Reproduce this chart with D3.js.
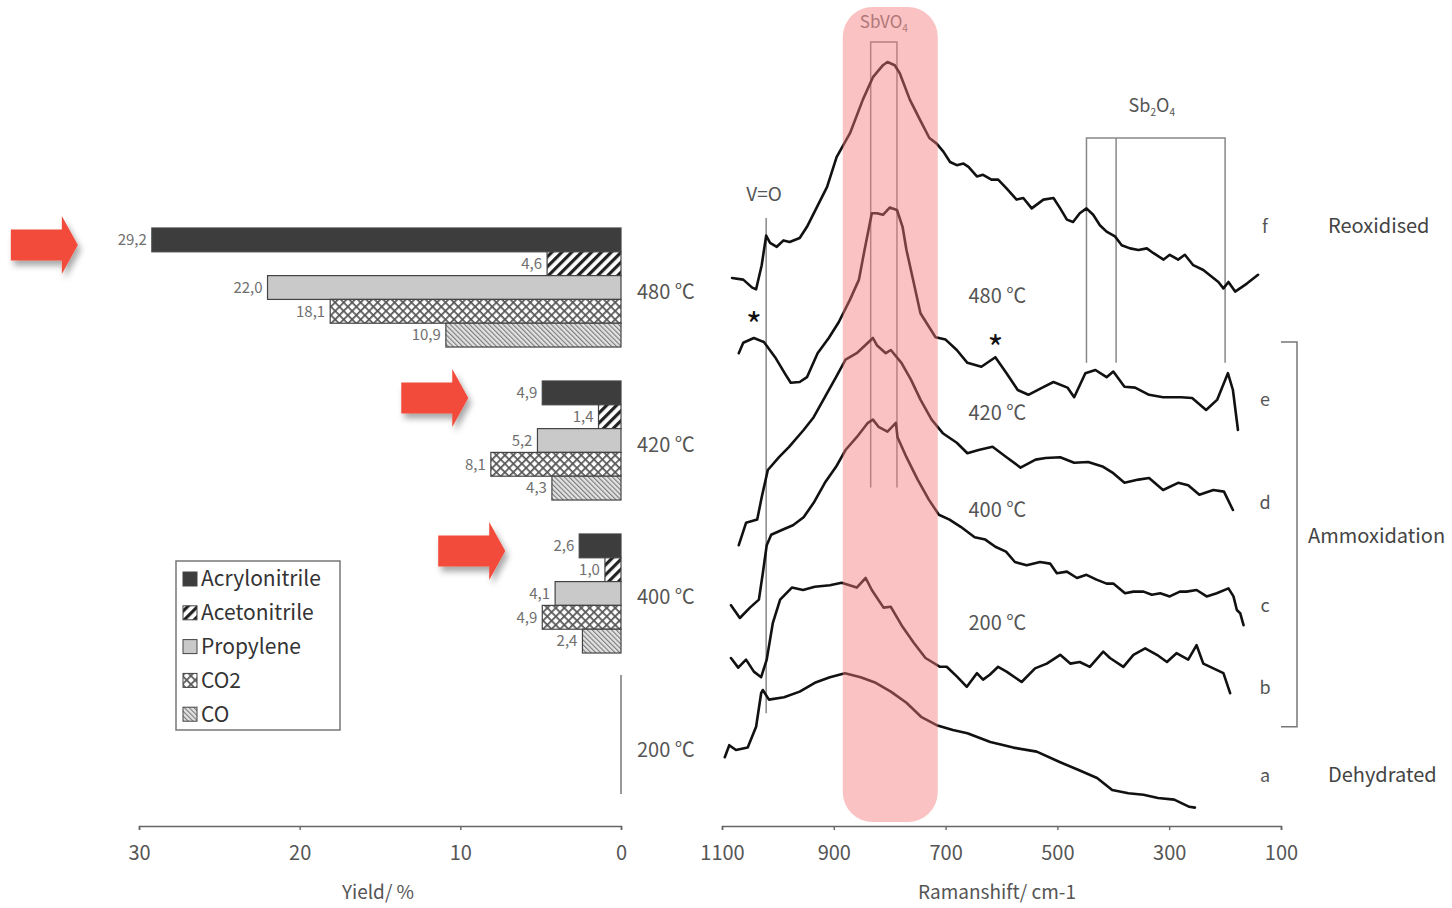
<!DOCTYPE html>
<html><head><meta charset="utf-8">
<script src="https://cdn.jsdelivr.net/npm/d3@7"></script>
<style>
html,body{margin:0;padding:0;background:#fff;}
svg text{font-family:"Noto Sans CJK JP","Open Sans",sans-serif;}
</style></head><body>
<svg id="chart" width="1452" height="908"></svg>
<script>
// ---------- data ----------
const groups = ["480 ℃", "420 ℃", "400 ℃", "200 ℃"];
const products = ["Acrylonitrile", "Acetonitrile", "Propylene", "CO2", "CO"];
const yield480 = [29.2, 4.6, 22.0, 18.1, 10.9];
const yield420 = [4.9, 1.4, 5.2, 8.1, 4.3];
const yield400 = [2.6, 1.0, 4.1, 4.9, 2.4];
const yield200 = [];
const highlighted = ["480 ℃", "420 ℃", "400 ℃"];
const yieldTicks = [30, 20, 10, 0];
const shiftTicks = [1100, 900, 700, 500, 300, 100];

// Raman spectra: [shift cm-1, intensity a.u.]
const specF = [[1082,68.5],[1062,68.3],[1046,67.3],[1039,67.1],[1029,70.1],[1021,73.8],[1014,72.9],[1002,72.4],[990,73.2],[979,73.0],[961,73.5],[948,74.9],[930,77.4],[912,79.9],[895,83.6],[871,86.6],[848,90.8],[830,93.6],[812,95.1],[804,95.5],[791,95.1],[782,94.1],[764,90.8],[746,88.3],[729,86.0],[716,85.3],[704,84.3],[692,83.0],[680,82.6],[668,82.8],[659,82.4],[644,81.2],[633,81.4],[618,80.8],[606,80.8],[591,79.7],[573,78.3],[561,78.5],[546,77.2],[525,78.3],[507,78.5],[495,77.2],[483,75.8],[472,75.5],[460,76.6],[448,77.2],[436,76.4],[424,75.1],[412,74.3],[397,73.7],[385,72.6],[370,72.2],[355,72.0],[340,72.2],[328,71.6],[310,70.8],[299,71.4],[284,70.8],[272,71.4],[257,70.1],[239,69.5],[221,68.5],[212,68.0],[203,67.2],[194,68.0],[182,66.8],[161,67.8],[141,68.9]];
const specE = [[1070,59.1],[1062,60.4],[1043,61.0],[1025,60.5],[1005,58.6],[986,56.4],[977,55.4],[961,55.5],[948,56.1],[929,59.1],[909,61.0],[891,63.0],[871,65.8],[855,68.3],[845,72.0],[832,76.6],[823,76.6],[812,76.4],[800,77.3],[787,77.0],[777,74.9],[770,72.0],[757,67.9],[745,64.1],[718,61.1],[700,60.8],[680,59.5],[661,57.9],[636,57.4],[611,58.6],[591,56.6],[571,54.5],[552,53.9],[527,54.8],[507,55.5],[482,54.8],[470,53.6],[450,56.6],[432,57.0],[412,56.1],[400,56.8],[380,54.9],[361,54.8],[336,53.9],[311,53.6],[279,53.6],[259,53.5],[234,52.0],[214,53.3],[195,56.6],[186,54.5],[177,49.5]];
const specD = [[1070,35.1],[1057,37.9],[1037,38.3],[1029,41.1],[1018,44.5],[998,46.1],[980,47.4],[954,49.5],[936,51.1],[916,53.6],[896,56.1],[879,58.3],[859,59.1],[839,60.4],[830,61.0],[823,60.1],[807,59.1],[798,59.5],[779,57.9],[762,55.8],[745,53.3],[725,50.8],[705,49.1],[680,47.9],[661,46.6],[641,47.0],[616,47.4],[591,46.1],[566,44.8],[539,45.8],[521,46.0],[495,46.1],[470,45.4],[445,45.5],[418,44.9],[400,44.1],[380,42.9],[355,43.3],[336,43.5],[311,42.0],[284,42.9],[266,42.6],[246,41.4],[221,42.0],[202,41.8],[186,39.5]];
const specC = [[1084,27.6],[1068,26.0],[1050,27.3],[1034,28.3],[1027,31.6],[1020,35.1],[1012,36.4],[993,37.0],[973,37.6],[954,38.6],[936,40.4],[916,42.9],[896,44.9],[879,47.0],[859,48.6],[839,50.4],[830,50.8],[820,49.9],[804,49.3],[789,50.4],[786,48.6],[770,46.1],[750,43.3],[730,40.8],[712,38.9],[693,38.3],[673,37.4],[648,36.1],[629,35.8],[611,34.9],[592,34.3],[576,33.0],[555,32.6],[531,33.0],[513,32.8],[501,31.6],[483,31.8],[465,31.0],[448,31.4],[430,30.8],[412,30.3],[400,30.3],[379,29.1],[364,29.3],[346,29.3],[331,28.9],[316,29.1],[299,28.7],[281,29.3],[269,29.3],[251,29.5],[233,28.7],[215,29.1],[194,29.7],[185,28.7],[179,27.0],[173,26.6],[167,25.1]];
const specB = [[1084,21.0],[1071,19.8],[1057,20.8],[1043,19.3],[1030,18.6],[1020,20.8],[1009,25.4],[996,28.3],[975,29.8],[955,29.5],[934,29.9],[907,30.1],[886,30.4],[859,29.8],[843,31.0],[832,29.5],[811,27.3],[798,27.4],[777,24.9],[757,22.9],[736,21.0],[710,19.9],[698,19.9],[680,18.7],[662,17.4],[644,19.1],[633,18.3],[621,18.9],[606,19.9],[591,19.3],[564,18.0],[540,19.7],[519,20.3],[495,21.4],[477,20.3],[460,20.5],[442,19.9],[418,21.8],[406,21.0],[382,19.9],[364,21.4],[343,22.2],[322,21.4],[304,20.5],[287,21.6],[266,20.8],[251,22.6],[239,20.3],[221,19.7],[203,19.1],[191,16.6]];
const specA = [[1095,8.6],[1087,10.1],[1075,9.5],[1054,9.8],[1039,12.4],[1030,16.6],[1027,17.0],[1016,15.8],[989,16.1],[961,16.8],[934,17.9],[907,18.6],[880,19.1],[852,18.6],[825,17.9],[798,16.8],[770,15.4],[743,13.6],[716,12.6],[687,12.0],[661,11.6],[620,10.5],[579,9.8],[537,9.3],[496,8.0],[462,7.0],[429,6.0],[402,4.5],[373,4.1],[346,3.9],[320,3.5],[291,3.3],[264,2.4],[254,2.3]];
const spectra = [specA, specB, specC, specD, specE, specF];
const specLetters = ["a", "b", "c", "d", "e", "f"];
const letterLevels = [6.3, 17.3, 27.6, 40.4, 53.3, 74.9];
const tempLabels = ["480 ℃", "420 ℃", "400 ℃", "200 ℃"];
const tempLevels = [66.3, 51.6, 39.5, 25.4];
const vOShift = 1021;
const sbvo4Shifts = [834, 787];
const sb2o4Shifts = [448, 395, 200];

// ---------- setup ----------
const svg = d3.select("#chart");
svg.append("rect").attr("width", 1452).attr("height", 908).attr("fill", "#fff");
const defs = svg.append("defs");

const pA = defs.append("pattern").attr("id", "pAceto").attr("patternUnits", "userSpaceOnUse")
  .attr("width", 7).attr("height", 7).attr("patternTransform", "rotate(45)");
pA.append("rect").attr("width", 7).attr("height", 7).attr("fill", "#fff");
pA.append("rect").attr("width", 3.2).attr("height", 7).attr("fill", "#222");
const pCO = defs.append("pattern").attr("id", "pCO").attr("patternUnits", "userSpaceOnUse")
  .attr("width", 3.4).attr("height", 3.4).attr("patternTransform", "rotate(-45)");
pCO.append("rect").attr("width", 3.4).attr("height", 3.4).attr("fill", "#e2e2e2");
pCO.append("rect").attr("width", 1.1).attr("height", 3.4).attr("fill", "#7a7a7a");
const pC2 = defs.append("pattern").attr("id", "pCO2").attr("patternUnits", "userSpaceOnUse")
  .attr("width", 6).attr("height", 6).attr("patternTransform", "rotate(45)");
pC2.append("rect").attr("width", 6).attr("height", 6).attr("fill", "#fff");
pC2.append("rect").attr("width", 6).attr("height", 1.7).attr("fill", "#555");
pC2.append("rect").attr("width", 1.7).attr("height", 6).attr("fill", "#555");

const fills = {Acrylonitrile: "#3d3d3d", Acetonitrile: "url(#pAceto)", Propylene: "#c9c9c9", CO2: "url(#pCO2)", CO: "url(#pCO)"};

const shadow = defs.append("filter").attr("id", "shadow").attr("x", "-30%").attr("y", "-30%").attr("width", "160%").attr("height", "160%");
shadow.append("feDropShadow").attr("dx", 3).attr("dy", 5).attr("stdDeviation", 3).attr("flood-color", "#000").attr("flood-opacity", 0.35);

// ---------- left: yield bars ----------
const xY = d3.scaleLinear().domain([0, 30]).range([621, 139]);
const gY = d3.scaleBand().domain(groups).range([228, 806]).paddingInner(0.222).paddingOuter(0);
const pY = d3.scaleBand().domain(products).range([0, gY.bandwidth()]).padding(0);
const yieldByGroup = {"480 ℃": yield480, "420 ℃": yield420, "400 ℃": yield400, "200 ℃": yield200};

const left = svg.append("g");
groups.forEach(g => {
  const vals = yieldByGroup[g];
  const gg = left.append("g");
  vals.forEach((v, i) => {
    const p = products[i];
    const y0 = gY(g) + pY(p);
    gg.append("rect").attr("x", xY(v)).attr("y", y0).attr("width", xY(0) - xY(v)).attr("height", pY.bandwidth())
      .attr("fill", fills[p]).attr("stroke", "#444").attr("stroke-width", 1.2);
    gg.append("text").attr("x", xY(v) - 5).attr("y", y0 + pY.bandwidth() / 2).attr("dy", "0.35em")
      .attr("text-anchor", "end").attr("font-size", 15).attr("fill", "#707070")
      .text(v.toFixed(1).replace(".", ","));
  });
  if (vals.length === 0) {
    gg.append("line").attr("x1", xY(0)).attr("x2", xY(0)).attr("y1", gY(g) - 12).attr("y2", gY(g) + gY.bandwidth() - 12)
      .attr("stroke", "#777").attr("stroke-width", 1.5);
  }
  gg.append("text").attr("x", xY(0) + 16).attr("y", gY(g) + gY.bandwidth() / 2 + 4).attr("dy", "0.35em")
    .attr("font-size", 20).attr("fill", "#555").text(g);
});

highlighted.forEach(g => {
  const v = yieldByGroup[g][0];
  const tx = xY(v) - 74, ty = gY(g) + pY("Acrylonitrile") + pY.bandwidth() / 2 + 5;
  const path = `M${tx - 67},${ty - 15.5} L${tx - 16},${ty - 15.5} L${tx - 16},${ty - 29} L${tx},${ty} L${tx - 16},${ty + 29} L${tx - 16},${ty + 15.5} L${tx - 67},${ty + 15.5} Z`;
  left.append("path").attr("d", path).attr("fill", "#f24b3b").attr("filter", "url(#shadow)");
});

const leg = left.append("g");
leg.append("rect").attr("x", 176).attr("y", 561).attr("width", 164).attr("height", 169)
  .attr("fill", "#fff").attr("stroke", "#777").attr("stroke-width", 1.5);
products.forEach((p, i) => {
  const cy = 579 + i * 33.8;
  leg.append("rect").attr("x", 183).attr("y", cy - 7).attr("width", 14).attr("height", 14)
    .attr("fill", fills[p]).attr("stroke", "#444").attr("stroke-width", 1);
  leg.append("text").attr("x", 201).attr("y", cy).attr("dy", "0.35em").attr("font-size", 21).attr("fill", "#333").text(p);
});

const axL = svg.append("g").attr("transform", "translate(0,826)")
  .call(d3.axisBottom(xY).tickValues(yieldTicks).tickSize(4).tickPadding(16).tickFormat(d3.format("d")));
axL.select(".domain").attr("stroke", "#666").attr("stroke-width", 1.6);
axL.selectAll(".tick line").attr("stroke", "#666").attr("stroke-width", 1.4);
axL.selectAll(".tick text").attr("font-size", 20).attr("fill", "#555").attr("font-family", "'Noto Sans CJK JP','Open Sans',sans-serif");
svg.append("text").attr("x", (xY(0) + xY(30)) / 2 - 2).attr("y", 892).attr("dy", "0.35em").attr("text-anchor", "middle")
  .attr("font-size", 19).attr("fill", "#555").text("Yield/ %");

// ---------- right: Raman spectra ----------
const xS = d3.scaleLinear().domain([1100, 100]).range([722, 1281]);
const yI = d3.scaleLinear().domain([0, 100]).range([826, 26]);
const right = svg.append("g");

const mk = right.append("g").attr("stroke", "#888").attr("stroke-width", 1.5).attr("fill", "none");
mk.append("line").attr("x1", xS(vOShift)).attr("x2", xS(vOShift)).attr("y1", yI(76)).attr("y2", yI(14.1));
mk.append("path").attr("d", `M${xS(sbvo4Shifts[0])},${yI(42.3)} V${yI(98)} H${xS(sbvo4Shifts[1])} V${yI(42.3)}`);
mk.append("path").attr("d", `M${xS(sb2o4Shifts[0])},${yI(57.9)} V${yI(86)} H${xS(sb2o4Shifts[2])} V${yI(57.9)}`);
mk.append("line").attr("x1", xS(sb2o4Shifts[1])).attr("x2", xS(sb2o4Shifts[1])).attr("y1", yI(86)).attr("y2", yI(57.9));

const line = d3.line().x(d => xS(d[0])).y(d => yI(d[1]));
spectra.forEach(s => {
  right.append("path").datum(s).attr("d", line).attr("fill", "none").attr("stroke", "#111")
    .attr("stroke-width", 2.6).attr("stroke-linejoin", "round").attr("stroke-linecap", "round");
});

right.append("text").attr("x", xS(vOShift) - 2).attr("y", 194).attr("dy", "0.35em").attr("text-anchor", "middle")
  .attr("font-size", 19).attr("fill", "#555").text("V=O");
const sbT = right.append("text").attr("x", (xS(sbvo4Shifts[0]) + xS(sbvo4Shifts[1])) / 2).attr("y", 22).attr("dy", "0.35em")
  .attr("text-anchor", "middle").attr("font-size", 17).attr("fill", "#777");
sbT.append("tspan").text("SbVO");
sbT.append("tspan").attr("font-size", 10).attr("dy", 4).text("4");
const sb2 = right.append("text").attr("x", (xS(sb2o4Shifts[0]) + xS(sb2o4Shifts[2])) / 2 - 4).attr("y", 106).attr("dy", "0.35em")
  .attr("text-anchor", "middle").attr("font-size", 18).attr("fill", "#555");
sb2.append("tspan").text("Sb");
sb2.append("tspan").attr("font-size", 10).attr("dy", 4).text("2");
sb2.append("tspan").attr("dy", -4).text("O");
sb2.append("tspan").attr("font-size", 10).attr("dy", 4).text("4");

right.append("text").attr("x", xS(1043)).attr("y", 338).attr("text-anchor", "middle").attr("font-size", 34)
  .attr("font-family", "DejaVu Sans").attr("fill", "#111").text("*");
right.append("text").attr("x", xS(611)).attr("y", 361).attr("text-anchor", "middle").attr("font-size", 34)
  .attr("font-family", "DejaVu Sans").attr("fill", "#111").text("*");

tempLabels.forEach((t, i) => {
  right.append("text").attr("x", xS(659)).attr("y", yI(tempLevels[i])).attr("dy", "0.35em")
    .attr("font-size", 20).attr("fill", "#555").text(t);
});
specLetters.forEach((l, i) => {
  right.append("text").attr("x", 1265).attr("y", yI(letterLevels[i])).attr("dy", "0.35em").attr("text-anchor", "middle")
    .attr("font-size", 18).attr("fill", "#555").text(l);
});
right.append("text").attr("x", 1328).attr("y", 226).attr("dy", "0.35em").attr("font-size", 20).attr("fill", "#444").text("Reoxidised");
right.append("text").attr("x", 1308).attr("y", 536).attr("dy", "0.35em").attr("font-size", 20).attr("fill", "#444").text("Ammoxidation");
right.append("text").attr("x", 1328).attr("y", 775).attr("dy", "0.35em").attr("font-size", 20).attr("fill", "#444").text("Dehydrated");
right.append("path").attr("d", `M1281,${yI(60.5)} H1297 V${yI(12.4)} H1281`).attr("fill", "none").attr("stroke", "#777").attr("stroke-width", 1.5);

right.append("rect").attr("x", xS(884)).attr("y", 7).attr("width", xS(714) - xS(884)).attr("height", 815)
  .attr("rx", 30).attr("ry", 30).attr("fill", "rgb(245,120,120)").attr("opacity", 0.45);

const axR = svg.append("g").attr("transform", "translate(0,826)")
  .call(d3.axisBottom(xS).tickValues(shiftTicks).tickSize(4).tickPadding(16).tickFormat(d3.format("d")));
axR.select(".domain").attr("stroke", "#666").attr("stroke-width", 1.6);
axR.selectAll(".tick line").attr("stroke", "#666").attr("stroke-width", 1.4);
axR.selectAll(".tick text").attr("font-size", 20).attr("fill", "#555").attr("font-family", "'Noto Sans CJK JP','Open Sans',sans-serif");
svg.append("text").attr("x", 997).attr("y", 892).attr("dy", "0.35em").attr("text-anchor", "middle")
  .attr("font-size", 19).attr("fill", "#555").text("Ramanshift/ cm-1");
</script>
</body></html>
